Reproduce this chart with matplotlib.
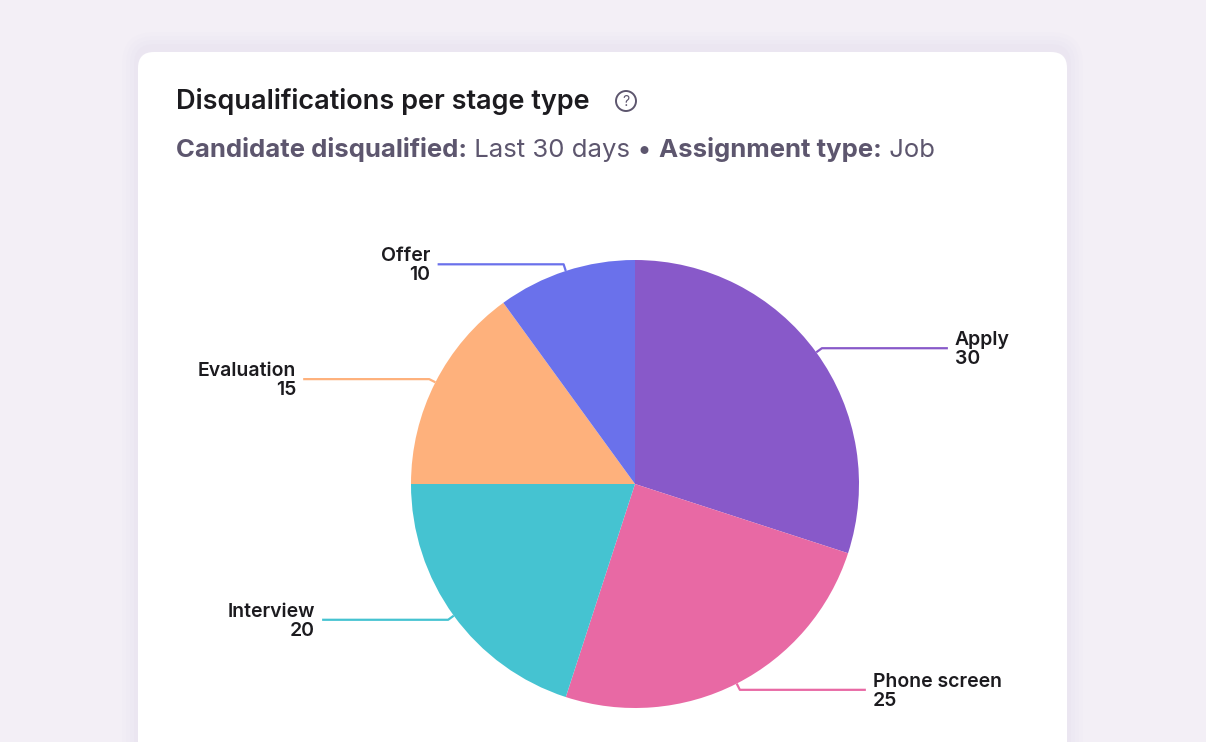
import numpy as np
import matplotlib.pyplot as plt
from matplotlib.patches import FancyBboxPatch, Circle

plt.rcParams['font.family'] = ['Inter', 'DejaVu Sans']

# data
stages = ["Apply", "Phone screen", "Interview", "Evaluation", "Offer"]
counts = [30, 25, 20, 15, 10]
colors = ["#8859c9", "#e869a4", "#45c3d1", "#feb17c", "#6a71eb"]

title = "Disqualifications per stage type"
sub_parts = [("Candidate disqualified:", "bold"), (" Last 30 days", "normal"),
             (" \u2022 ", "normal"), ("Assignment type:", "bold"), (" Job", "normal")]

W, H = 1206, 742
fig = plt.figure(figsize=(W / 100, H / 100), dpi=100)
fig.patch.set_facecolor("#f3eff6")
ax = fig.add_axes([0, 0, 1, 1])

def Y(py):
    return H - py

# card + soft shadow
for i, a in enumerate([0.018, 0.022, 0.028, 0.035]):
    g = 16 - i * 4
    ax.add_patch(FancyBboxPatch((138 - g, Y(800)), 929 + 2 * g, 800 - 52 + g + 4,
                                boxstyle="round,pad=0,rounding_size=%d" % (16 + g),
                                fc="#b9aed3", ec="none", alpha=a, zorder=0))
ax.add_patch(FancyBboxPatch((138, Y(800)), 929, 800 - 52,
                            boxstyle="round,pad=0,rounding_size=16",
                            fc="white", ec="none", zorder=1))

# title
ax.text(176, Y(109), title, fontsize=19.5, fontweight="semibold", color="#1c1b1f",
        va="baseline", ha="left", zorder=3)
ax.add_patch(Circle((626, Y(101)), 10, fc="none", ec="#5d566e", lw=1.4, zorder=3))
ax.text(626, Y(101.5), "?", fontsize=10, color="#5d566e", ha="center", va="center", zorder=3)

# subtitle, pieces chained one after another
prev = ax.text(176, Y(157), sub_parts[0][0], fontsize=18.5, fontweight=sub_parts[0][1],
               color="#5d566e", va="baseline", ha="left", zorder=3)
for txt, wt in sub_parts[1:]:
    prev = ax.annotate(txt, xy=(1, 0), xycoords=prev, fontsize=18.5, fontweight=wt,
                       color="#5d566e", va="bottom", ha="left", zorder=3)

# pie
cx, cy, r = 635, Y(484), 224
wedges, _ = ax.pie(counts, colors=colors, startangle=90, counterclock=False,
                   center=(cx, cy), radius=r, wedgeprops=dict(linewidth=0))
for w in wedges:
    w.set_zorder(2)

# leader lines and labels
for w, name, val, col in zip(wedges, stages, counts, colors):
    mid = np.deg2rad((w.theta1 + w.theta2) / 2)
    x0, y0 = cx + r * np.cos(mid), cy + r * np.sin(mid)
    x1, y1 = cx + (r + 7) * np.cos(mid), cy + (r + 7) * np.sin(mid)
    side = 1 if np.cos(mid) >= 0 else -1
    x2 = x1 + side * 126
    ax.plot([x0, x1, x2], [y0, y1, y1], color=col, lw=1.6, zorder=2,
            solid_capstyle="butt", solid_joinstyle="round")
    ax.text(x2 + side * 7, y1 - 1.5, "%s\n%d" % (name, val), fontsize=14,
            fontweight="semibold", color="#1c1b1f",
            ha="left" if side > 0 else "right", va="center",
            linespacing=1.06, zorder=3)

ax.set_xlim(0, W)
ax.set_ylim(0, H)
ax.set_aspect("auto")
ax.axis("off")

fig.savefig("out.png", dpi=100, facecolor=fig.get_facecolor())
